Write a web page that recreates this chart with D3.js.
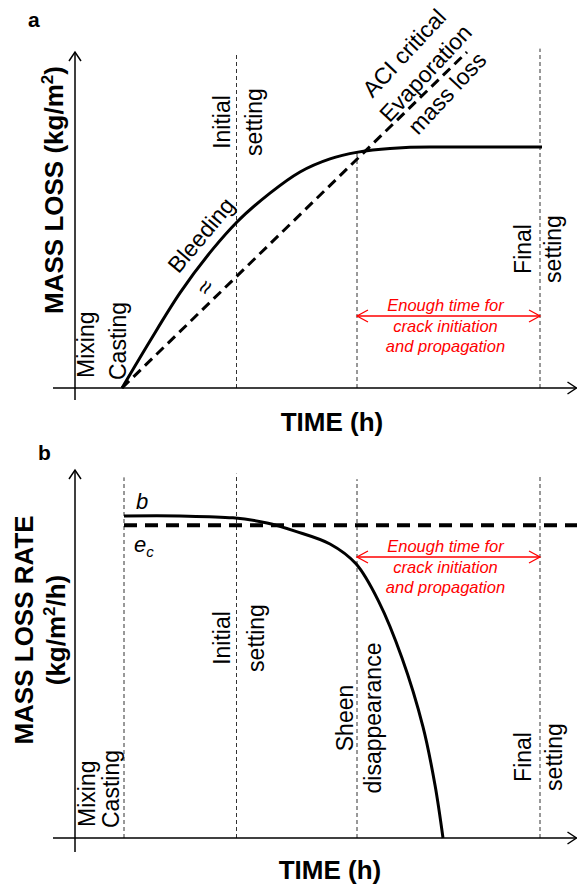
<!DOCTYPE html>
<html>
<head>
<meta charset="utf-8">
<script src="https://cdn.jsdelivr.net/npm/d3@7"></script>
<style>
body { margin: 0; background: #fff; }
svg { display: block; font-family: "Liberation Sans", Arial, sans-serif; }
</style>
</head>
<body>
<svg width="577" height="888"></svg>
<script>
// time axis has no ticks, so times are in arbitrary units (0 = mixing)
var eventNames = ["Mixing", "Casting", "Initial setting", "Sheen disappearance", "Final setting"];
var eventTimes = [0, 0.98, 3.23, 5.64, 9.3];
var eventLines = [["Mixing"], ["Casting"], ["Initial", "setting"], ["Sheen", "disappearance"], ["Final", "setting"]];

// panel a : cumulative mass loss (bleeding) and ACI critical evaporation line
var massTime = [0.94, 1.5, 2.1, 2.76, 3.24, 3.9, 4.5, 5.1, 5.66, 6.3, 7.1, 9.34];
var massLoss = [0, 1.40, 2.83, 4.14, 4.94, 5.80, 6.43, 6.82, 7.02, 7.13, 7.17, 7.17];
var aciTime = [0.94, 7.84];
var aciLoss = [0, 10];

// panel b : mass loss rate (b) and critical evaporation rate (e_c)
var rateTime = [0.98, 2.1, 3.16, 3.84, 4.4, 5.1, 5.62, 6.08, 6.54, 6.96, 7.2, 7.36];
var rateValue = [8.75, 8.75, 8.70, 8.56, 8.34, 7.99, 7.45, 6.41, 4.89, 3.02, 1.44, 0];
var ecTime = [0.98, 10.1];
var ecValue = [8.5, 8.5];

var noteLines = ["Enough time for", "crack initiation", "and propagation"];

var svg = d3.select("svg");
var font = '"Liberation Sans", Arial, sans-serif';

var x = d3.scaleLinear().domain([0, 10]).range([75, 575]);
var ya = d3.scaleLinear().domain([0, 10]).range([388, 52]);
var yb = d3.scaleLinear().domain([0, 10]).range([838, 470]);

function zip(xs, ys) { return xs.map(function (d, i) { return { t: d, v: ys[i] }; }); }

function drawAxes(y, yBottom) {
    var g = svg.append("g").attr("stroke", "#000").attr("stroke-width", 1.5).attr("fill", "none");
    var x0 = x(-0.44), x1 = x(10.03), y0 = y(0);
    g.append("line").attr("x1", x0).attr("x2", x1).attr("y1", y0).attr("y2", y0);
    g.append("polyline").attr("points", [[x1 - 9, y0 - 6], [x1, y0], [x1 - 9, y0 + 6]].join(" "));
    var ax = x(0), top = y(10);
    g.append("line").attr("x1", ax).attr("x2", ax).attr("y1", y(yBottom)).attr("y2", top);
    g.append("polyline").attr("points", [[ax - 6, top + 9], [ax, top], [ax + 6, top + 9]].join(" "));
}

function vline(t, y, vTop) {
    svg.append("line")
        .attr("x1", x(t)).attr("x2", x(t))
        .attr("y1", y(0)).attr("y2", y(vTop))
        .attr("stroke", "#333").attr("stroke-width", 1).attr("stroke-dasharray", "4,3");
}

// rotated two-line label, line baselines straddle the event line
function eventLabel(i, cy, off1, off2) {
    var lines = eventLines[i], xe = x(eventTimes[i]);
    var offs = [off1, off2];
    lines.forEach(function (s, k) {
        svg.append("text")
            .attr("transform", "translate(" + (xe + offs[k]) + "," + cy + ") rotate(-90)")
            .attr("text-anchor", "middle")
            .style("font", "23px " + font)
            .text(s);
    });
}

function startLabel(s, bx, by) {
    svg.append("text")
        .attr("transform", "translate(" + bx + "," + by + ") rotate(-90)")
        .style("font", "23px " + font)
        .text(s);
}

function note(y, ay) {
    var xa = x(eventTimes[3]), xf = x(eventTimes[4]);
    var g = svg.append("g").attr("stroke", "#ff0000").attr("stroke-width", 1.3).attr("fill", "none");
    g.append("line").attr("x1", xa).attr("x2", xf).attr("y1", ay).attr("y2", ay);
    g.append("polyline").attr("points", [[xa + 11, ay - 6], [xa, ay], [xa + 11, ay + 6]].join(" "));
    g.append("polyline").attr("points", [[xf - 11, ay - 6], [xf, ay], [xf - 11, ay + 6]].join(" "));
    noteLines.forEach(function (s, k) {
        svg.append("text")
            .attr("x", (xa + xf) / 2 - 3)
            .attr("y", ay - 5 + k * 20.5)
            .attr("text-anchor", "middle")
            .attr("fill", "#ff0000")
            .style("font", "italic 16.5px " + font)
            .text(s);
    });
}

function axisTitle(s, cx, by) {
    svg.append("text").attr("x", cx).attr("y", by)
        .attr("text-anchor", "middle")
        .style("font", "bold 26px " + font)
        .text(s);
}

// ---------------- panel a ----------------
svg.append("text").attr("x", 28).attr("y", 27).style("font", "bold 21px " + font).text("a");

vline(eventTimes[2], ya, 10);
vline(eventTimes[3], ya, 7.0);
vline(eventTimes[4], ya, 10.1);
drawAxes(ya, -0.36);

var lineA = d3.line().curve(d3.curveMonotoneX)
    .x(function (d) { return x(d.t); })
    .y(function (d) { return ya(d.v); });

svg.append("path").datum(zip(aciTime, aciLoss))
    .attr("d", lineA)
    .attr("fill", "none").attr("stroke", "#000").attr("stroke-width", 3)
    .attr("stroke-dasharray", "10,6");

svg.append("path").datum(zip(massTime, massLoss))
    .attr("d", lineA)
    .attr("fill", "none").attr("stroke", "#000").attr("stroke-width", 3);

startLabel("Mixing", 94, 378);
startLabel("Casting", 126, 380);
eventLabel(2, 122, -7, 25);
eventLabel(4, 249, -9, 21);

svg.append("text")
    .attr("transform", "translate(" + x(2.52) + "," + ya(4.55) + ") rotate(-50)")
    .attr("text-anchor", "middle").attr("dy", "0.35em")
    .style("font", "23px " + font).text("Bleeding");
svg.append("text")
    .attr("transform", "translate(" + x(2.6) + "," + ya(3.0) + ") rotate(-60)")
    .attr("text-anchor", "middle").attr("dy", "0.35em")
    .style("font", "24px " + font).text("\u2248");

var aci = ["ACI critical", "Evaporation", "mass loss"];
aci.forEach(function (s, k) {
    var cx = 404 + k * 21.5, cy = 53 + k * 20;
    svg.append("text")
        .attr("transform", "translate(" + cx + "," + cy + ") rotate(-47)")
        .attr("text-anchor", "middle").attr("dy", "0.35em")
        .style("font", "23px " + font).text(s);
});

note(ya, 316);

svg.append("text")
    .attr("transform", "translate(63,190) rotate(-90)")
    .attr("text-anchor", "middle")
    .style("font", "bold 26px " + font)
    .call(function (t) {
        t.append("tspan").text("MASS LOSS (kg/m");
        t.append("tspan").attr("dy", -10).style("font-size", "17px").text("2");
        t.append("tspan").attr("dy", 10).text(")");
    });
axisTitle("TIME (h)", 332, 431);

// ---------------- panel b ----------------
svg.append("text").attr("x", 38).attr("y", 460).style("font", "bold 21px " + font).text("b");

vline(eventTimes[1], yb, 9.8);
vline(eventTimes[2], yb, 9.9);
vline(eventTimes[3], yb, 9.75);
vline(eventTimes[4], yb, 9.85);
drawAxes(yb, -0.38);

var lineB = d3.line().curve(d3.curveCatmullRom.alpha(0.5))
    .x(function (d) { return x(d.t); })
    .y(function (d) { return yb(d.v); });

svg.append("path").datum(zip(ecTime, ecValue))
    .attr("d", lineB)
    .attr("fill", "none").attr("stroke", "#000").attr("stroke-width", 4)
    .attr("stroke-dasharray", "13,8");

svg.append("path").datum(zip(rateTime, rateValue))
    .attr("d", lineB)
    .attr("fill", "none").attr("stroke", "#000").attr("stroke-width", 3);

svg.append("text").attr("x", x(eventTimes[1]) + 12).attr("y", yb(8.75) - 7)
    .style("font", "italic 22px " + font).text("b");
svg.append("text").attr("x", x(eventTimes[1]) + 10).attr("y", yb(8.5) + 27)
    .style("font", "italic 22px " + font)
    .call(function (t) {
        t.append("tspan").text("e");
        t.append("tspan").attr("dy", 5).style("font-size", "15px").text("c");
    });

startLabel("Mixing", 95, 827);
startLabel("Casting", 119, 828);
eventLabel(2, 638, -7, 27);
eventLabel(3, 718, -4, 24);
eventLabel(4, 757, -9, 22);

note(yb, 557);

svg.append("text")
    .attr("transform", "translate(33,630) rotate(-90)")
    .attr("text-anchor", "middle")
    .style("font", "bold 26px " + font)
    .text("MASS LOSS RATE");
svg.append("text")
    .attr("transform", "translate(65,630) rotate(-90)")
    .attr("text-anchor", "middle")
    .style("font", "bold 26px " + font)
    .call(function (t) {
        t.append("tspan").text("(kg/m");
        t.append("tspan").attr("dy", -10).style("font-size", "17px").text("2");
        t.append("tspan").attr("dy", 10).text("/h)");
    });
axisTitle("TIME (h)", 330, 879);
</script>
</body>
</html>
